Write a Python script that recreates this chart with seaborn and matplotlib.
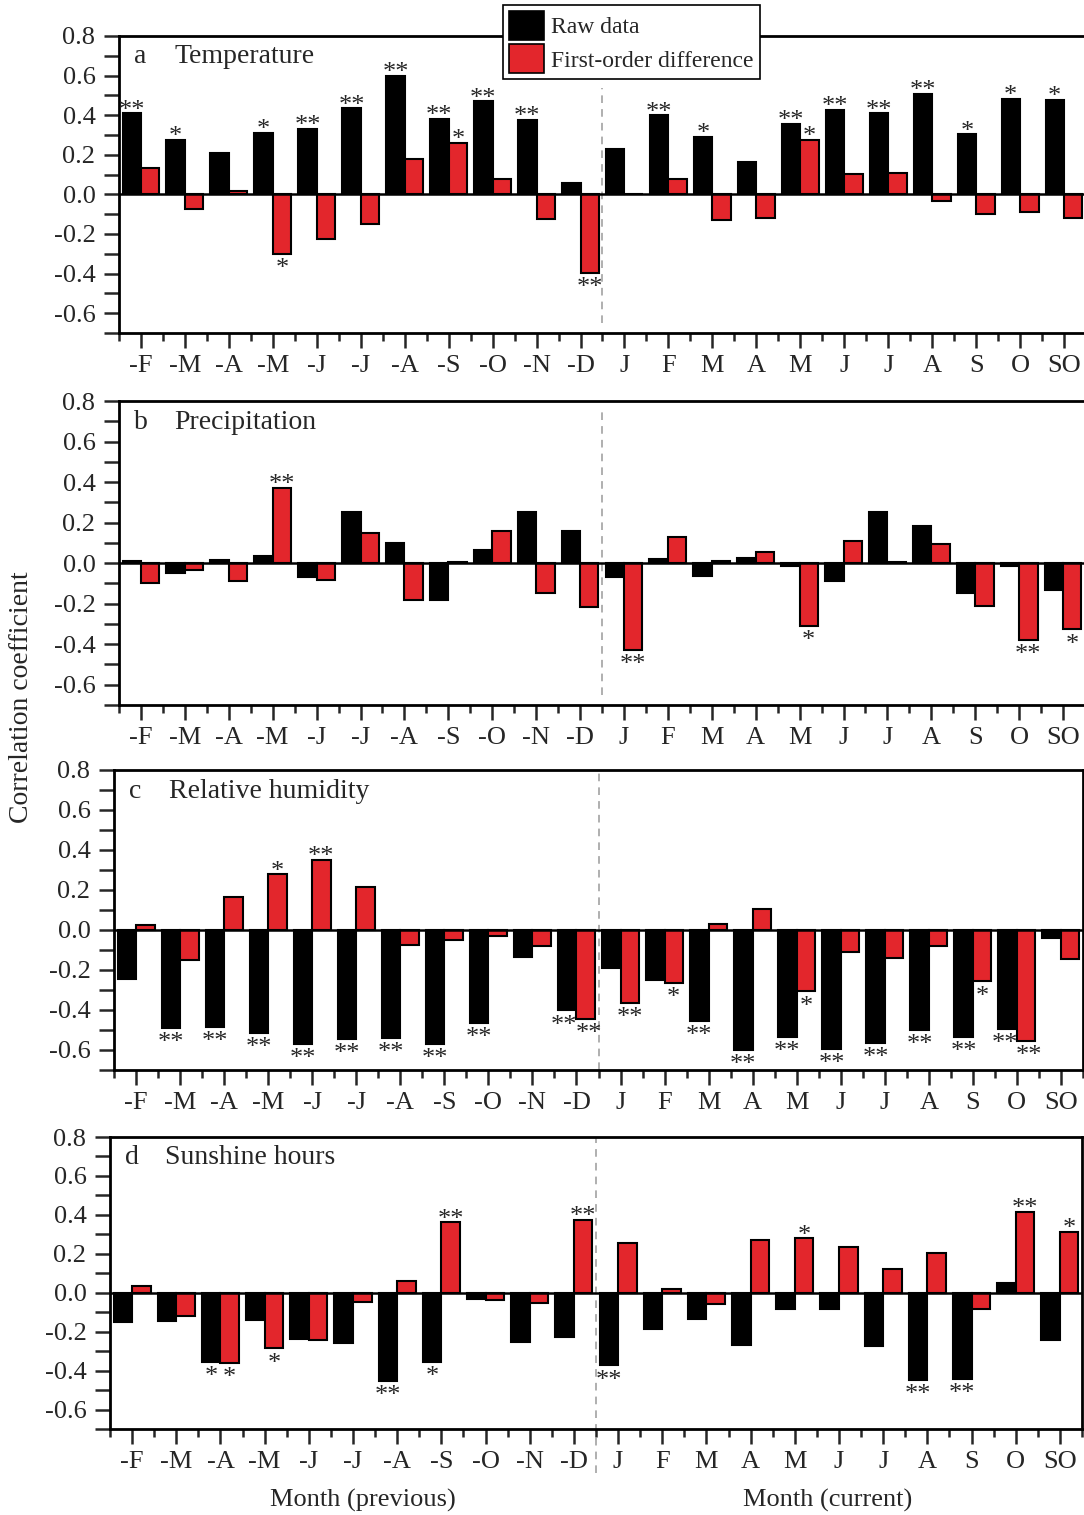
import numpy as np
import pandas as pd
import matplotlib
matplotlib.use('Agg')
import matplotlib.pyplot as plt
from matplotlib.patches import Patch
import seaborn as sns

months = ['-F', '-M', '-A', '-M', '-J', '-J', '-A', '-S', '-O', '-N', '-D',
          'J', 'F', 'M', 'A', 'M', 'J', 'J', 'A', 'S', 'O', 'SO']

temp_raw = [0.41, 0.275, 0.21, 0.31, 0.33, 0.435, 0.60, 0.38, 0.47, 0.375, 0.056,
            0.23, 0.40, 0.29, 0.165, 0.358, 0.427, 0.41, 0.508, 0.304, 0.483, 0.478]
temp_diff = [0.135, -0.076, 0.019, -0.30, -0.225, -0.15, 0.18, 0.26, 0.076, -0.123, -0.397,
             0.0, 0.076, -0.13, -0.118, 0.275, 0.103, 0.108, -0.032, -0.10, -0.088, -0.118]
temp_raw_sig = ['**', '*', '', '*', '**', '**', '**', '**', '**', '**', '',
                '', '**', '*', '', '**', '**', '**', '**', '*', '*', '*']
temp_diff_sig = ['', '', '', '*', '', '', '', '*', '', '', '**',
                 '', '', '', '', '*', '', '', '', '', '', '']

prec_raw = [0.012, -0.048, 0.015, 0.035, -0.07, 0.25, 0.10, -0.183, 0.063, 0.25, 0.157,
            -0.07, 0.02, -0.065, 0.026, -0.013, -0.09, 0.25, 0.185, -0.145, -0.012, -0.134]
prec_diff = [-0.098, -0.035, -0.088, 0.37, -0.081, 0.149, -0.183, 0.008, 0.159, -0.149, -0.218,
             -0.43, 0.13, 0.012, 0.056, -0.31, 0.11, 0.007, 0.096, -0.21, -0.38, -0.327]
prec_raw_sig = [''] * 22
prec_diff_sig = ['', '', '', '**', '', '', '', '', '', '', '',
                 '**', '', '', '', '*', '', '', '', '', '**', '*']

hum_raw = [-0.247, -0.489, -0.486, -0.513, -0.569, -0.546, -0.539, -0.569, -0.464, -0.135, -0.402,
           -0.189, -0.25, -0.454, -0.598, -0.533, -0.596, -0.564, -0.499, -0.533, -0.494, -0.038]
hum_diff = [0.025, -0.149, 0.165, 0.279, 0.35, 0.214, -0.077, -0.052, -0.032, -0.08, -0.444,
            -0.364, -0.264, 0.028, 0.104, -0.307, -0.112, -0.14, -0.082, -0.257, -0.553, -0.147]
hum_raw_sig = ['', '**', '**', '**', '**', '**', '**', '**', '**', '', '**',
               '', '', '**', '**', '**', '**', '**', '**', '**', '**', '']
hum_diff_sig = ['', '', '', '*', '**', '', '', '', '', '', '**',
                '**', '*', '', '', '*', '', '', '', '*', '**', '']

sun_raw = [-0.151, -0.143, -0.355, -0.138, -0.238, -0.258, -0.453, -0.355, -0.031, -0.253, -0.229,
           -0.373, -0.186, -0.134, -0.27, -0.083, -0.083, -0.275, -0.447, -0.444, 0.052, -0.241]
sun_diff = [0.033, -0.12, -0.361, -0.286, -0.243, -0.048, 0.062, 0.361, -0.038, -0.053, 0.375,
            0.258, 0.019, -0.06, 0.27, 0.279, 0.234, 0.122, 0.205, -0.086, 0.417, 0.313]
sun_raw_sig = ['', '', '*', '', '', '', '**', '*', '', '', '',
               '**', '', '', '', '', '', '', '**', '**', '', '']
sun_diff_sig = ['', '', '*', '*', '', '', '', '**', '', '', '**',
                '', '', '', '', '*', '', '', '', '', '**', '*']

panels = [
    ('a', 'Temperature', temp_raw, temp_diff, temp_raw_sig, temp_diff_sig),
    ('b', 'Precipitation', prec_raw, prec_diff, prec_raw_sig, prec_diff_sig),
    ('c', 'Relative humidity', hum_raw, hum_diff, hum_raw_sig, hum_diff_sig),
    ('d', 'Sunshine hours', sun_raw, sun_diff, sun_raw_sig, sun_diff_sig),
]

series = ['Raw data', 'First-order difference']
colors = ['#000000', '#E3262C']

sns.set_style('ticks')
plt.rcParams['font.family'] = ['Liberation Serif', 'DejaVu Serif']
plt.rcParams['axes.unicode_minus'] = False

W, H = 1084, 1515
fig = plt.figure(figsize=(W / 100, H / 100), dpi=100)

# axes boxes in pixels: left, right, top, bottom
boxes = [(119, 1086, 36, 333), (119, 1085, 401, 705),
         (114, 1083, 770, 1070), (110, 1082, 1137, 1429)]
# extent of the dashed separator in axes fraction
vline_ext = [(0.034, 0.825), (0.033, 0.97), (0.0, 1.0), (-0.15, 1.0)]

for k, (letter, name, raw, diff, raw_sig, diff_sig) in enumerate(panels):
    l, r, t, b = boxes[k]
    ax = fig.add_axes([l / W, 1 - b / H, (r - l) / W, (b - t) / H])

    df = pd.DataFrame({
        'pos': list(range(22)) * 2,
        'value': raw + diff,
        'series': [series[0]] * 22 + [series[1]] * 22,
    })
    sns.barplot(data=df, x='pos', y='value', hue='series', hue_order=series,
                palette=colors, width=0.84, edgecolor='black', linewidth=1.5,
                saturation=1, legend=False, ax=ax)

    ax.axhline(0, color='black', lw=1.8, zorder=3)
    ymin, ymax = vline_ext[k]
    ax.axvline(10.5, ymin=ymin, ymax=ymax, color='#9a9a9a', lw=1.1,
               ls=(0, (5, 4)), clip_on=False, zorder=0)

    # significance marks
    for i in range(22):
        # two double stars side by side below the bars: spread them a bit
        both = (raw_sig[i] == '**' and diff_sig[i] == '**' and raw[i] < 0 and diff[i] < 0)
        spread = 0.07 if both else 0.0
        for val, sig, dx in ((raw[i], raw_sig[i], -0.21 - spread),
                             (diff[i], diff_sig[i], 0.21 + spread)):
            if not sig:
                continue
            if val >= 0:
                ax.annotate(sig, (i + dx, val), xytext=(0, -6), textcoords='offset points',
                            ha='center', va='bottom', fontsize=19)
            else:
                ax.annotate(sig, (i + dx, val), xytext=(0, -3), textcoords='offset points',
                            ha='center', va='top', fontsize=19)

    ax.set_xlim(-0.5, 21.5)
    ax.set_ylim(-0.7, 0.8)
    ax.set_xticks(range(22))
    ax.set_xticklabels(months, fontsize=19)
    ax.set_xticks(np.arange(-0.5, 22, 1), minor=True)
    ax.set_yticks(np.arange(-0.6, 0.81, 0.2))
    ax.set_yticklabels(['%.1f' % v for v in np.arange(-0.6, 0.81, 0.2)], fontsize=19)
    ax.set_yticks(np.arange(-0.7, 0.81, 0.1), minor=True)
    ax.tick_params(axis='both', which='major', direction='out', length=11, width=1.8)
    ax.tick_params(axis='both', which='minor', direction='out', length=6, width=1.8)
    ax.tick_params(axis='y', which='minor', length=11)
    ax.tick_params(axis='x', which='major', pad=5)
    ax.tick_params(axis='y', which='major', pad=6)
    ax.set_xlabel('')
    ax.set_ylabel('')
    for s in ax.spines.values():
        s.set_linewidth(2)
        s.set_color('black')

    ax.text(0.015, 0.93, letter, transform=ax.transAxes, fontsize=20, va='center')
    ax.text(0.057, 0.93, name, transform=ax.transAxes, fontsize=20, va='center')

handles = [Patch(facecolor=c, edgecolor='black', lw=1.2) for c in colors]
leg = fig.legend(handles, series, loc='upper left', bbox_to_anchor=(503 / W, 1 - 5 / H),
                 fontsize=17, frameon=True, fancybox=False, framealpha=1,
                 edgecolor='black', handlelength=1.5, handleheight=1.5,
                 handletextpad=0.3, borderpad=0.25, labelspacing=0.2, borderaxespad=0)
leg.get_frame().set_linewidth(1.2)

fig.text(22 / W, 1 - 697 / H, 'Correlation coefficient', rotation=90,
         ha='center', va='center', fontsize=20)
fig.text(363 / W, 1 - 1500 / H, 'Month (previous)', ha='center', va='center', fontsize=19)
fig.text(828 / W, 1 - 1500 / H, 'Month (current)', ha='center', va='center', fontsize=19)

fig.savefig('out.png', dpi=100)
